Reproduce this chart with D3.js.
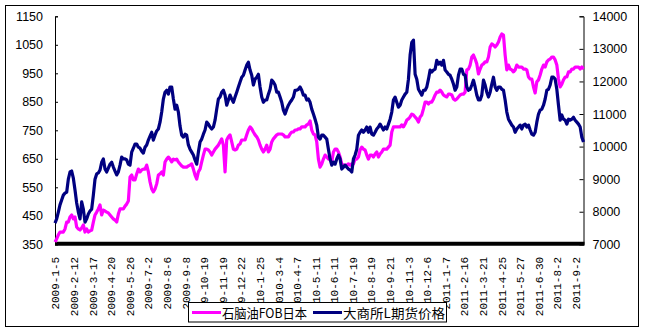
<!DOCTYPE html>
<html>
<head>
<meta charset="utf-8">
<script src="https://cdn.jsdelivr.net/npm/d3@7"></script>
<style>
  html, body { margin: 0; padding: 0; background: #fff; }
  svg { display: block; }
</style>
</head>
<body>
<svg id="chart" width="646" height="333"></svg>
<script>
// ---- Data ----
const seriesNames = ["石脑油FOB日本", "大商所L期货价格"];

const dateLabels = ["2009-1-5","2009-2-12","2009-3-17","2009-4-20","2009-5-26","2009-7-2","2009-8-6","2009-9-8",
  "2009-10-19","2009-11-19","2009-12-22","2010-1-25","2010-3-4","2010-4-7","2010-5-11","2010-6-11","2010-7-19",
  "2010-8-19","2010-9-21","2010-11-3","2010-12-6","2011-1-7","2011-2-16","2011-3-21","2011-4-25","2011-5-27",
  "2011-6-30","2011-8-2","2011-9-2"];
const labelStepDays = 23;     // trading days between category labels
const totalDays = 654;        // trading days spanned by the series

const leftTicks = [350,450,550,650,750,850,950,1050,1150];
const rightTicks = [7000,8000,9000,10000,11000,12000,13000,14000];

// Naphtha FOB Japan (left axis), sampled evenly over the period
const naphtha = [358,369,383,393,393,393,404,428,428,446,
453,439,446,411,404,400,407,418,393,404,
393,397,400,428,453,463,474,488,453,470,
467,463,460,453,446,439,435,428,456,474,
474,474,484,491,502,586,593,576,576,597,
614,604,611,614,614,628,604,569,544,534,
544,562,593,597,604,593,639,649,656,649,
639,649,646,649,639,632,625,621,621,621,
625,628,632,614,593,579,604,614,639,663,
684,684,681,674,663,674,684,691,698,709,
720,698,604,716,727,734,709,684,681,684,
698,702,716,716,716,734,751,762,755,744,
734,727,716,698,684,674,684,698,674,684,
709,720,727,734,737,737,737,734,727,727,
727,737,744,744,751,751,755,755,762,762,
762,769,772,783,751,737,734,709,649,621,
632,649,663,656,649,649,639,674,684,684,
674,656,632,628,628,628,632,628,632,632,
649,649,656,681,691,684,681,663,649,663,
663,656,667,674,656,667,674,684,684,684,
691,698,744,762,762,762,762,762,769,762,
772,786,790,797,807,804,797,790,779,797,
804,825,849,849,842,849,849,860,874,884,
884,891,884,874,870,867,877,877,874,860,
856,860,867,874,877,877,884,962,965,979,
1007,1014,1000,983,948,965,979,983,990,990,
1007,1042,1053,1049,1042,1049,1060,1077,1088,1084,
1014,962,979,965,962,955,962,979,972,972,
972,965,965,962,937,930,930,902,881,920,
927,944,965,979,972,990,997,1000,1007,1007,
997,979,930,902,912,927,937,937,955,955,
965,965,972,972,972,965,972,965];

// DCE LLDPE futures (right axis), same sampling
const lldpe = [7650,7780,7990,8210,8360,8510,8570,8600,9000,9220,
9250,9030,8670,8270,7990,7780,8300,8080,7680,7780,
7930,8020,8080,8510,9000,9160,9190,9280,9520,9620,
9310,9220,9340,9460,9520,9370,9250,9130,9220,9430,
9680,9620,9620,9590,9460,9430,9830,9950,10080,10080,
9980,9950,9860,9800,9980,10050,10200,10320,10440,10200,
10350,10480,10540,10750,11060,11460,11670,11730,11610,11830,
11830,11460,11150,11270,11060,10630,10350,10290,10380,10350,
10050,9920,9830,9740,9590,9460,9830,10140,10230,10380,
10510,10750,10690,10600,10540,10600,10810,11150,11460,11520,
11670,11730,11580,11270,11430,11580,11460,11360,11520,11670,
11830,11980,12130,12190,12350,12500,12590,12350,12190,11890,
12070,12130,12220,11830,11520,11360,11430,11430,11610,11760,
12040,11980,11890,11670,11670,11520,11360,11120,11000,11150,
11270,11360,11430,11520,11730,11730,11760,11830,11730,11580,
11580,11430,11460,11360,11150,11000,10840,10660,10290,10230,
10350,10350,10290,10230,9920,9620,9430,9520,9460,9620,
9740,9620,9310,9370,9430,9370,9310,9280,9220,9620,
9740,9920,10350,10440,10510,10440,10510,10600,10440,10600,
10380,10350,10440,10540,10600,10690,10600,10510,10600,10540,
10690,10840,11060,11430,11520,11360,11210,11270,11430,11520,
11610,11670,12070,12810,13200,13270,12220,12070,11760,11670,
11580,11730,11730,11830,12070,12350,12290,12350,12380,12650,
12530,12590,12500,12650,12350,12290,12220,12190,12070,11920,
11730,11830,12190,12380,12380,12220,12190,11830,11730,11760,
11890,12040,11830,11580,11430,11430,11580,12040,11890,11670,
11520,11670,11920,12130,11830,11730,11830,11830,11760,11730,
11430,11060,10840,10750,10660,10600,10440,10540,10600,10660,
10540,10660,10690,10600,10660,10510,10380,10350,10440,10750,
11000,11120,11150,11270,11460,11730,11760,11890,12130,12130,
12070,11760,11270,10810,10970,10840,10810,10690,10840,10810,
10840,10900,10810,10750,10690,10600,10290,10140];

// ---- Layout ----
const svg = d3.select("#chart");
const plot = { left: 55, right: 583.5, top: 16.3, bottom: 244.3 };
const colors = { naphtha: "#ff00ff", lldpe: "#000080" };

// outer frame
svg.append("rect").attr("x", 5.5).attr("y", 5.5).attr("width", 633).attr("height", 321)
  .attr("fill", "#fff").attr("stroke", "#000").attr("stroke-width", 1);

const xDay = d3.scaleLinear().domain([0, totalDays]).range([plot.left, plot.right]);
const dayOfSample = i => i * totalDays / (naphtha.length - 1);
const yL = d3.scaleLinear().domain([350, 1150]).range([plot.bottom, plot.top]);
const yR = d3.scaleLinear().domain([7000, 14000]).range([plot.bottom, plot.top]);

// left axis
const gL = svg.append("g").attr("transform", `translate(${plot.left},0)`)
  .call(d3.axisLeft(yL).tickValues(leftTicks).tickSize(-3).tickPadding(12).tickFormat(d3.format("d")));
// right axis
const gR = svg.append("g").attr("transform", `translate(${plot.right},0)`)
  .call(d3.axisRight(yR).tickValues(rightTicks).tickSize(-4).tickPadding(9).tickFormat(d3.format("d")));
[gL, gR].forEach(g => {
  g.select(".domain").attr("stroke", "#000").attr("stroke-width", 1);
  g.selectAll(".tick line").attr("stroke", "#000");
  g.selectAll("text").attr("font-family", "'Liberation Sans', Arial, sans-serif")
    .attr("font-size", 12.5).attr("fill", "#000");
});

// x axis (category labels)
const labelDays = dateLabels.map((_, i) => i * labelStepDays);
const gX = svg.append("g").attr("transform", `translate(0,${plot.bottom})`)
  .call(d3.axisBottom(xDay).tickValues(labelDays).tickSize(0)
    .tickFormat((d, i) => dateLabels[i]));
gX.select(".domain").remove();
gX.selectAll("text")
  .attr("transform", "rotate(-90)")
  .attr("text-anchor", "end")
  .attr("x", -12.5).attr("y", 0).attr("dy", "0.36em")
  .attr("font-family", "'Liberation Mono', 'DejaVu Sans Mono', monospace")
  .attr("font-size", 11).attr("fill", "#000");

// thick category axis line
svg.append("line")
  .attr("x1", xDay(0)).attr("x2", xDay(totalDays) + 1)
  .attr("y1", plot.bottom - 0.5).attr("y2", plot.bottom - 0.5)
  .attr("stroke", "#000").attr("stroke-width", 4);

// series
const lineL = d3.line().x((d, i) => xDay(dayOfSample(i))).y(d => yL(d));
const lineR = d3.line().x((d, i) => xDay(dayOfSample(i))).y(d => yR(d));
svg.append("path").datum(naphtha).attr("d", lineL)
  .attr("fill", "none").attr("stroke", colors.naphtha).attr("stroke-width", 3.2)
  .attr("stroke-linejoin", "round");
svg.append("path").datum(lldpe).attr("d", lineR)
  .attr("fill", "none").attr("stroke", colors.lldpe).attr("stroke-width", 3.2)
  .attr("stroke-linejoin", "round");

// legend
const lg = svg.append("g");
lg.append("rect").attr("x", 188.5).attr("y", 302.5).attr("width", 258).attr("height", 19.5)
  .attr("fill", "#fff").attr("stroke", "#000").attr("stroke-width", 1);
const legendItems = [
  { name: seriesNames[0], color: colors.naphtha, x: 192, len: 85 },
  { name: seriesNames[1], color: colors.lldpe, x: 313, len: 102 }
];
legendItems.forEach(it => {
  lg.append("line").attr("x1", it.x).attr("x2", it.x + 29).attr("y1", 312.5).attr("y2", 312.5)
    .attr("stroke", it.color).attr("stroke-width", 3);
  lg.append("text").attr("x", it.x + 30).attr("y", 317.5)
    .attr("font-family", "'Noto Sans CJK SC', sans-serif").attr("font-size", 13)
    .attr("textLength", it.len).attr("lengthAdjust", "spacingAndGlyphs")
    .attr("fill", "#000").text(it.name);
});
</script>
</body>
</html>
